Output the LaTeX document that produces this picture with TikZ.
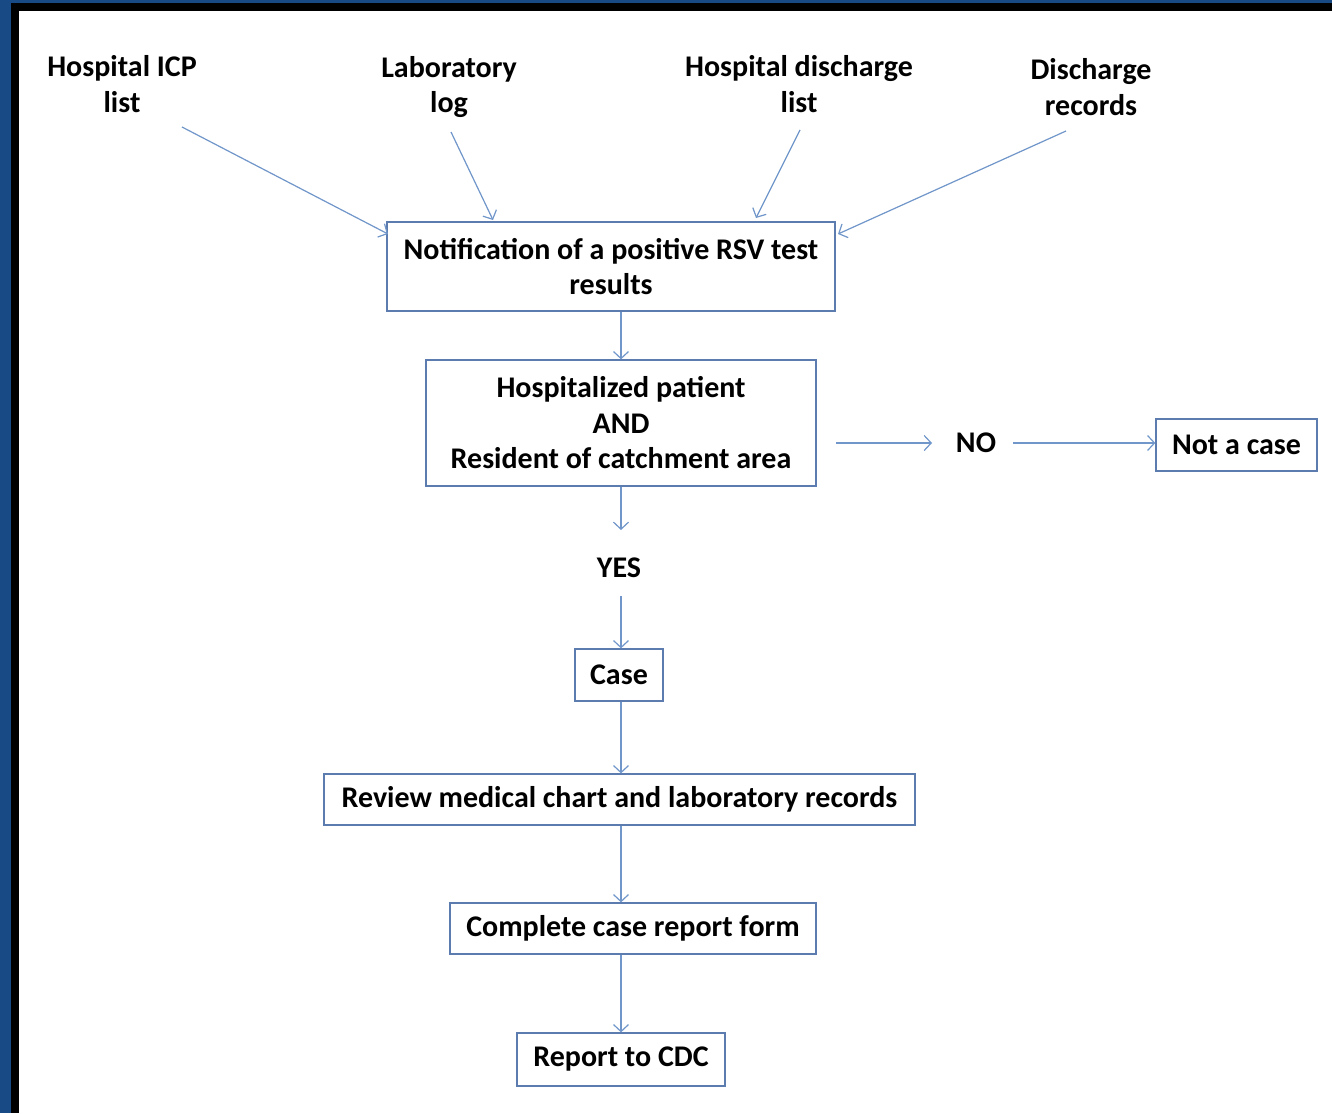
\documentclass[tikz,border=0pt]{standalone}
\usepackage{fontspec}
\setmainfont{Carlito}
\usetikzlibrary{arrows.meta}
\definecolor{linebl}{RGB}{112,150,202}
\definecolor{boxbl}{RGB}{92,124,176}
\definecolor{edgebl}{RGB}{24,74,134}

\begin{document}
\begin{tikzpicture}
[x=1pt,y=-1pt,
 every node/.style={font=\fontsize{30}{35.5}\selectfont\bfseries,align=center},
 box/.style={draw=boxbl,line width=1.3pt,inner sep=0pt},
 link/.style={draw=linebl,line width=1.2pt,-{Straight Barb[length=7pt,width=15pt,line width=1.2pt]}}]
\useasboundingbox (0,0) rectangle (1332,1113);
\fill[edgebl] (0,0) rectangle (1332,1113);
\fill[black] (11,3) rectangle (1332,1113);
\fill[white] (19,11) rectangle (1332,1113);

\node (v1) at (122,84) {Hospital ICP\\list};
\node (v2) at (449,87) {Laboratory\\log};
\node (v3) at (799,84) {Hospital discharge\\list};
\node (v4) at (1091,87) {Discharge\\records};

\node[box,minimum width=448pt,minimum height=89pt] (v5) at (611,266.5) {Notification of a positive RSV test\\results};
\node[box,minimum width=390pt,minimum height=126pt] (v6) at (621,423) {Hospitalized patient\\AND\\Resident of catchment area};
\node (v7) at (976,443) {NO};
\node[box,minimum width=161pt,minimum height=52pt] (v8) at (1236.5,445) {Not a case};
\node (v9) at (619,568) {YES};
\node[box,minimum width=88pt,minimum height=52pt] (v10) at (619,675) {Case};
\node[box,minimum width=591pt,minimum height=51pt] (v11) at (619.5,799.5) {Review medical chart and laboratory records};
\node[box,minimum width=366pt,minimum height=51pt] (v12) at (633,928.5) {Complete case report form};
\node[box,minimum width=208pt,minimum height=53pt] (v13) at (621,1059.5) {Report to CDC};

% tails and heads of the source arrows
\coordinate (a1) at (182,127);
\coordinate (b1) at (388,234);
\coordinate (a2) at (451,132);
\coordinate (b2) at (493,220);
\coordinate (a3) at (800,130);
\coordinate (b3) at (756,218);
\coordinate (a4) at (1066,131);
\coordinate (b4) at (838,234);
% free ends round NO and YES
\coordinate (a5) at (836,443);
\coordinate (b5) at (932,443);
\coordinate (a6) at (1013,443);
\coordinate (b6) at (621,530);
\coordinate (a7) at (621,596);
\coordinate (mid) at (621,0);

\foreach \from/\to in {a1/b1,a2/b2,a3/b3,a4/b4,a5/b5}
\draw[link] (\from) -- (\to);

\draw[link] (v5.south -| mid) -- (v6.north -| mid);
\draw[link] (a6) -- (v8.west |- a6);
\draw[link] (v6.south -| mid) -- (b6);
\draw[link] (a7) -- (v10.north -| mid);
\draw[link] (v10.south -| mid) -- (v11.north -| mid);
\draw[link] (v11.south -| mid) -- (v12.north -| mid);
\draw[link] (v12.south -| mid) -- (v13.north -| mid);
\end{tikzpicture}
\end{document}
